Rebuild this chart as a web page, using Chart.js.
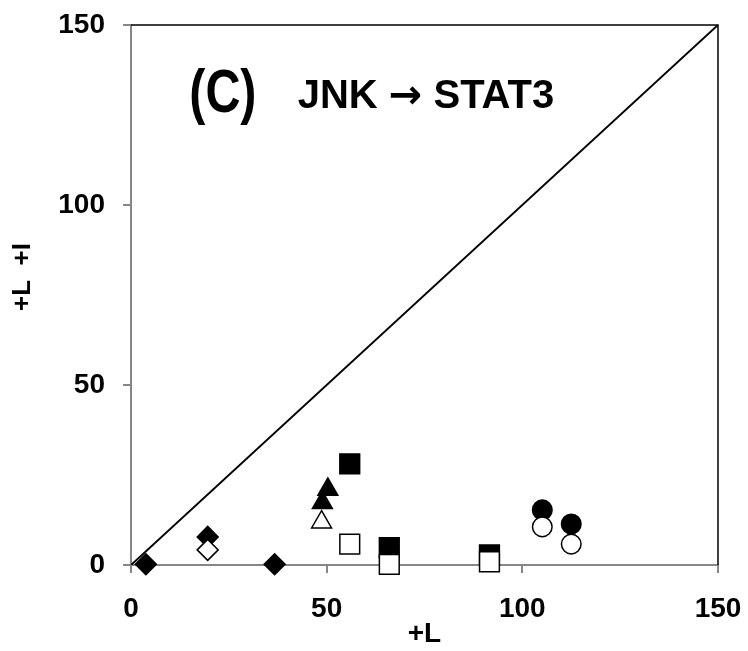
<!DOCTYPE html>
<html>
<head>
<meta charset="utf-8">
<script src="https://cdn.jsdelivr.net/npm/chart.js@4/dist/chart.umd.min.js"></script>
<style>
  html, body { margin: 0; padding: 0; background: #ffffff; }
  #wrap { width: 748px; height: 651px; }
</style>
</head>
<body>
<div id="wrap"><canvas id="c" width="748" height="651"></canvas></div>
<script>
// ---- data ----
const panelLabel = "(C)";
const panelTitleParts = ["JNK ", "\u2192", " STAT3"];
const xAxisTitle = "+L";
const yAxisTitle = "+L  +I";
const axisTicks = [0, 50, 100, 150];
const identityLine = [[0, 0], [150, 150]];

const diamondFilledX = [3.8, 19.6, 36.7];
const diamondFilledY = [0.2, 7.8, 0.2];
const diamondOpenX = [19.6];
const diamondOpenY = [4.2];

const triangleFilledX = [50.3, 48.9];
const triangleFilledY = [21.0, 17.3];
const triangleOpenX = [48.7];
const triangleOpenY = [11.9];

const squareFilledX = [55.9, 66.0, 91.6];
const squareFilledY = [28.1, 4.8, 2.8];
const squareOpenX = [55.9, 66.0, 91.6];
const squareOpenY = [5.8, 0.2, 0.9];

const circleFilledX = [105.1, 112.5];
const circleFilledY = [15.3, 11.4];
const circleOpenX = [105.1, 112.5];
const circleOpenY = [10.6, 5.8];

// ---- helpers ----
const pts = (xs, ys) => xs.map((x, i) => ({ x: x, y: ys[i] }));
const FONT = "'Liberation Sans', Arial, sans-serif";

function markerSet(label, xs, ys, style, radius, filled, order) {
  return {
    type: 'scatter',
    label: label,
    data: pts(xs, ys),
    pointStyle: style,
    pointRadius: radius,
    pointHoverRadius: radius,
    backgroundColor: filled ? '#000000' : '#ffffff',
    borderColor: '#000000',
    pointBorderWidth: 1.5,
    borderWidth: 1.5,
    clip: false,
    order: order
  };
}

const panelTextPlugin = {
  id: 'panelText',
  afterDatasetsDraw(chart) {
    const ctx = chart.ctx;
    const xs = chart.scales.x, ys = chart.scales.y;
    ctx.save();
    ctx.fillStyle = '#000000';
    ctx.textBaseline = 'alphabetic';
    ctx.textAlign = 'left';
    // panel label, condensed horizontally like the original narrow face
    ctx.save();
    ctx.translate(xs.getPixelForValue(14.9), ys.getPixelForValue(125.8));
    ctx.scale(0.78, 1);
    ctx.font = "bold 62px " + FONT;
    ctx.fillText(panelLabel, 0, 0);
    ctx.restore();
    // title, arrow drawn in a font that has a heavy arrow glyph
    let x = xs.getPixelForValue(42.6);
    const base = ys.getPixelForValue(126.9);
    const fonts = ["bold 40px " + FONT, "bold 40px 'DejaVu Sans', sans-serif", "bold 40px " + FONT];
    panelTitleParts.forEach((t, i) => {
      ctx.font = fonts[i];
      ctx.fillText(t, x, base);
      x += ctx.measureText(t).width;
    });
    // top and right frame of the plot area
    const a = chart.chartArea;
    ctx.strokeStyle = '#000000';
    ctx.lineWidth = 1.5;
    ctx.beginPath();
    ctx.moveTo(a.left, a.top);
    ctx.lineTo(a.right, a.top);
    ctx.lineTo(a.right, a.bottom);
    ctx.stroke();
    ctx.restore();
  }
};

const ctx = document.getElementById('c').getContext('2d');
new Chart(ctx, {
  data: {
    datasets: [
      {
        type: 'line',
        label: 'identity',
        data: identityLine.map(p => ({ x: p[0], y: p[1] })),
        borderColor: '#000000',
        borderWidth: 2,
        pointRadius: 0,
        fill: false,
        tension: 0,
        order: 5
      },
      markerSet('diamond filled', diamondFilledX, diamondFilledY, 'rectRot', 10.5, true, 4),
      markerSet('triangle filled', triangleFilledX, triangleFilledY, 'triangle', 11.5, true, 4),
      markerSet('square filled', squareFilledX, squareFilledY, 'rect', 14, true, 4),
      markerSet('circle filled', circleFilledX, circleFilledY, 'circle', 9.8, true, 4),
      markerSet('diamond open', diamondOpenX, diamondOpenY, 'rectRot', 10.5, false, 1),
      markerSet('triangle open', triangleOpenX, triangleOpenY, 'triangle', 11.5, false, 1),
      markerSet('square open', squareOpenX, squareOpenY, 'rect', 14, false, 1),
      markerSet('circle open', circleOpenX, circleOpenY, 'circle', 9.8, false, 1)
    ]
  },
  options: {
    responsive: false,
    animation: false,
    devicePixelRatio: 1,
    layout: { padding: { top: 25, right: 30, left: 0, bottom: 0 } },
    plugins: {
      legend: { display: false },
      tooltip: { enabled: false },
      title: { display: false }
    },
    scales: {
      x: {
        type: 'linear',
        min: axisTicks[0],
        max: axisTicks[axisTicks.length - 1],
        afterBuildTicks(scale) { scale.ticks = axisTicks.map(v => ({ value: v })); },
        afterFit(scale) { scale.height = 86; scale.paddingLeft = 0; scale.paddingRight = 0; },
        grid: { display: true, drawOnChartArea: false, drawTicks: true, tickLength: 8, color: '#868686', lineWidth: 2 },
        border: { display: true, color: '#868686', width: 2 },
        ticks: { color: '#000000', padding: 19, font: { family: FONT, size: 28, weight: 'bold' } },
        title: { display: true, text: xAxisTitle, color: '#000000', padding: { top: 0, bottom: 0 }, font: { family: FONT, size: 28, weight: 'bold' } }
      },
      y: {
        type: 'linear',
        min: axisTicks[0],
        max: axisTicks[axisTicks.length - 1],
        afterBuildTicks(scale) { scale.ticks = axisTicks.map(v => ({ value: v })); },
        afterFit(scale) { scale.width = 131; scale.paddingTop = 0; scale.paddingBottom = 0; },
        grid: { display: true, drawOnChartArea: false, drawTicks: true, tickLength: 8, color: '#868686', lineWidth: 2 },
        border: { display: true, color: '#868686', width: 2 },
        ticks: { color: '#000000', padding: 18, font: { family: FONT, size: 28, weight: 'bold' } },
        title: { display: true, text: "     " + yAxisTitle, color: '#000000', padding: { top: 7, bottom: 0 }, font: { family: FONT, size: 26, weight: 'bold' } }
      }
    }
  },
  plugins: [panelTextPlugin]
});
</script>
</body>
</html>
